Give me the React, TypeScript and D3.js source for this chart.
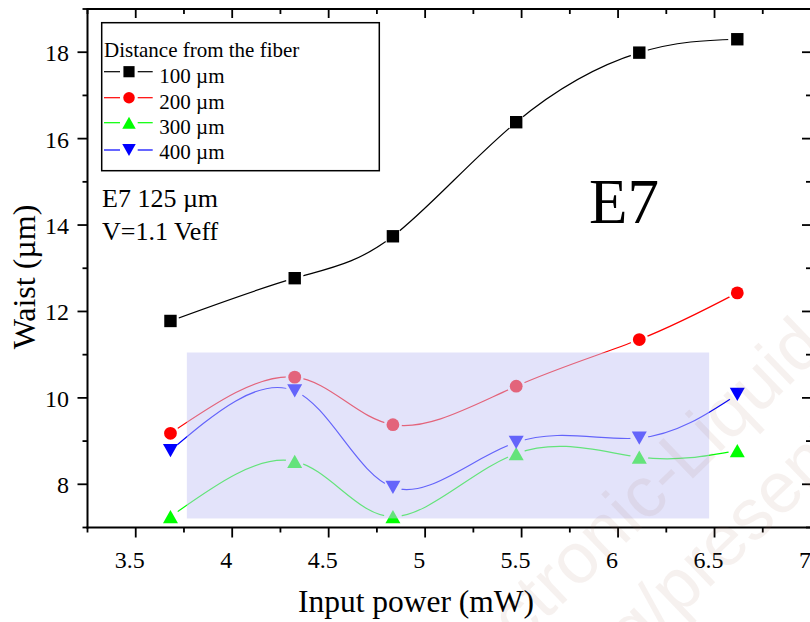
import React from 'react';
import * as d3 from 'd3';

// ---- data ----
const inputPower = [3.68, 4.324, 4.833, 5.472, 6.11, 6.618];
const waist100 = [11.78, 12.77, 13.74, 16.38, 17.99, 18.3];
const waist200 = [9.18, 10.48, 9.38, 10.27, 11.35, 12.43];
const waist300 = [7.25, 8.53, 7.25, 8.71, 8.63, 8.78];
const waist400 = [8.78, 10.16, 7.93, 8.97, 9.07, 10.08];
const seriesLabels = ['100 µm', '200 µm', '300 µm', '400 µm'];
const seriesColors = ['#000000', '#ff0000', '#00ff00', '#0000ff'];
const markerKinds = ['square', 'circle', 'up', 'down'];
const xTickValues = [3.5, 4, 4.5, 5, 5.5, 6, 6.5, 7];
const yTickValues = [8, 10, 12, 14, 16, 18];
const shadeXRange = [3.765, 6.472];
const shadeYRange = [7.21, 11.05];

const SERIF = '"Liberation Serif", "Times New Roman", Times, serif';

function markerPath(kind: string, cx: number, cy: number, s = 1): string {
  if (kind === 'square') {
    const h = 6.2 * s;
    return `M${cx - h},${cy - h}H${cx + h}V${cy + h}H${cx - h}Z`;
  }
  if (kind === 'circle') {
    const r = 6.4 * s;
    return `M${cx - r},${cy}A${r},${r} 0 1 0 ${cx + r},${cy}A${r},${r} 0 1 0 ${cx - r},${cy}Z`;
  }
  const hw = 7.5 * s;
  const hh = 6.6 * s;
  if (kind === 'up') {
    return `M${cx},${cy - hh}L${cx + hw},${cy + hh}L${cx - hw},${cy + hh}Z`;
  }
  return `M${cx},${cy + hh}L${cx + hw},${cy - hh}L${cx - hw},${cy - hh}Z`;
}

export default function App() {
  const W = 810;
  const H = 622;
  const x = d3.scaleLinear().domain([3.25, 7]).range([87.5, 811]);
  const y = d3.scaleLinear().domain([7, 19]).range([527.5, 9]);
  const series = [waist100, waist200, waist300, waist400];

  const line = d3
    .line<[number, number]>()
    .x((d) => x(d[0]))
    .y((d) => y(d[1]))
    .curve(d3.curveNatural);

  const xMinor = d3.range(3.25, 7.001, 0.25).filter((v) => Math.abs(v * 2 - Math.round(v * 2)) > 1e-6);
  const yMinor = d3.range(7, 19.001, 2);

  const x0 = x(3.25);
  const x1 = x(7);
  const y0 = y(7);
  const y1 = y(19);

  return (
    <svg
      width={W}
      height={H}
      style={{ position: 'absolute', left: 0, top: 0, display: 'block', background: '#fff' }}
    >
      <defs>
        {series.map((vals, i) => (
          <mask id={`gap${i}`} key={i} maskUnits="userSpaceOnUse" x={0} y={0} width={W} height={H}>
            <rect x={0} y={0} width={W} height={H} fill="#fff" />
            {vals.map((v, j) => (
              <circle key={j} cx={x(inputPower[j])} cy={y(v)} r={9} fill="#000" />
            ))}
          </mask>
        ))}
      </defs>

      {/* series lines */}
      {series.map((vals, i) => (
        <path
          key={`l${i}`}
          d={line(vals.map((v, j) => [inputPower[j], v] as [number, number])) || ''}
          fill="none"
          stroke={seriesColors[i]}
          strokeWidth={1.2}
          mask={`url(#gap${i})`}
        />
      ))}
      {/* markers */}
      {series.map((vals, i) =>
        vals.map((v, j) => (
          <path
            key={`m${i}-${j}`}
            d={markerPath(markerKinds[i], x(inputPower[j]), y(v))}
            fill={seriesColors[i]}
          />
        ))
      )}

      {/* shaded overlay */}
      <rect
        x={x(shadeXRange[0])}
        y={y(shadeYRange[1])}
        width={x(shadeXRange[1]) - x(shadeXRange[0])}
        height={y(shadeYRange[0]) - y(shadeYRange[1])}
        fill="rgb(200,200,245)"
        fillOpacity={0.5}
      />

      {/* axes frame */}
      <g stroke="#000" strokeWidth={2} fill="none">
        <line x1={x0} y1={y1} x2={x0} y2={y0 + 1} />
        <line x1={x0 - 1} y1={y0} x2={x1} y2={y0} />
        <line x1={x0 - 1} y1={y1} x2={x1} y2={y1} />
        <line x1={x1} y1={y1} x2={x1} y2={y0} />
      </g>
      {/* ticks */}
      <g stroke="#000" strokeWidth={1.8}>
        {xTickValues.map((v) => (
          <g key={`xt${v}`}>
            <line x1={x(v)} x2={x(v)} y1={y0} y2={y0 + 10} />
            <line x1={x(v)} x2={x(v)} y1={y1} y2={y1 + 9} />
          </g>
        ))}
        {xMinor.map((v) => (
          <g key={`xm${v}`}>
            <line x1={x(v)} x2={x(v)} y1={y0} y2={y0 + 5} />
            <line x1={x(v)} x2={x(v)} y1={y1} y2={y1 + 5} />
          </g>
        ))}
        {yTickValues.map((v) => (
          <g key={`yt${v}`}>
            <line x1={x0} x2={x0 - 10} y1={y(v)} y2={y(v)} />
            <line x1={x1} x2={x1 - 9} y1={y(v)} y2={y(v)} />
          </g>
        ))}
        {yMinor.map((v) => (
          <g key={`ym${v}`}>
            <line x1={x0} x2={x0 - 5} y1={y(v)} y2={y(v)} />
            <line x1={x1} x2={x1 - 5} y1={y(v)} y2={y(v)} />
          </g>
        ))}
      </g>
      {/* tick labels */}
      {xTickValues.map((v) => (
        <text key={`xl${v}`} x={x(v) - 6} y={568} textAnchor="middle" fontFamily={SERIF} fontSize={24} fill="#000">
          {String(v)}
        </text>
      ))}
      {yTickValues.map((v) => (
        <text key={`yl${v}`} x={69} y={y(v) + 9} textAnchor="end" fontFamily={SERIF} fontSize={24} fill="#000">
          {String(v)}
        </text>
      ))}
      {/* axis titles */}
      <text x={416} y={612} textAnchor="middle" fontFamily={SERIF} fontSize={31.5} fill="#000">
        Input power (mW)
      </text>
      <text
        transform="translate(35,277) rotate(-90)"
        textAnchor="middle"
        fontFamily={SERIF}
        fontSize={32}
        fill="#000"
      >
        Waist (µm)
      </text>

      {/* legend */}
      <rect x={101.7} y={22.7} width={277.6} height={148} fill="#fff" stroke="#000" strokeWidth={1.5} />
      <text x={104} y={56.7} fontFamily={SERIF} fontSize={21} fill="#000">
        Distance from the fiber
      </text>
      {seriesLabels.map((lab, i) => {
        const cy = [71.7, 97.7, 122.7, 150][i];
        const by = [83.3, 109.3, 134.3, 159.3][i];
        return (
          <g key={`lg${i}`}>
            <line x1={104} x2={120} y1={cy} y2={cy} stroke={seriesColors[i]} strokeWidth={1.2} />
            <line x1={137.7} x2={152.7} y1={cy} y2={cy} stroke={seriesColors[i]} strokeWidth={1.2} />
            <path d={markerPath(markerKinds[i], 129, cy, 0.9)} fill={seriesColors[i]} />
            <text x={159.3} y={by} fontFamily={SERIF} fontSize={21} fill="#000">
              {lab}
            </text>
          </g>
        );
      })}

      {/* annotations */}
      <text x={102} y={207} fontFamily={SERIF} fontSize={26} fill="#000">
        E7 125 µm
      </text>
      <text x={102} y={239.5} fontFamily={SERIF} fontSize={26} fill="#000">
        V=1.1 Veff
      </text>
      <text x={589} y={223.3} fontFamily={SERIF} fontSize={63} fill="#000">
        E7
      </text>

      {/* faint watermark */}
      <g fontFamily='"Liberation Sans", Arial, sans-serif' fontSize={72} fill="#a06050" fillOpacity={0.09}>
        <text transform="translate(827,349) rotate(-44)" textAnchor="end">
          Electronic-Liquid
        </text>
        <text transform="translate(589,704) rotate(-44)" textAnchor="start">
          org/presentation
        </text>
      </g>
    </svg>
  );
}
